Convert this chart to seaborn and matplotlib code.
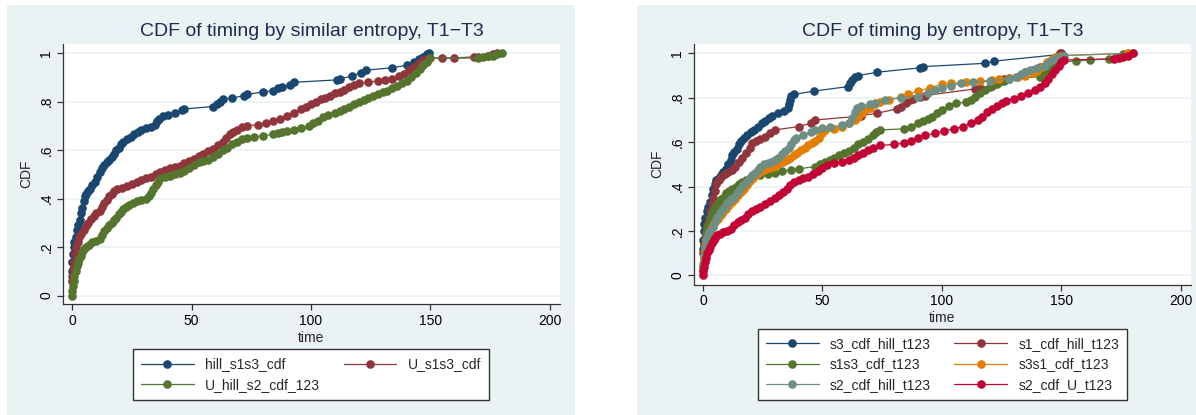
import matplotlib
matplotlib.use("Agg")
import matplotlib.pyplot as plt
import seaborn as sns
from matplotlib.patches import Rectangle

# ---------------- data ----------------
# Left panel: CDF of timing by similar entropy
hill_s1s3_t = [0, 0, 0.3, 0.6, 1, 1.5, 2, 2.6, 3.2, 3.8, 4.3, 4.8, 5.3, 5.8, 6.5, 7.5, 8.5, 9.5, 10.5, 11.5,
               12.5, 13.5, 14.5, 15.5, 16.5, 17.5, 18.5, 19.5, 20.5, 21.5, 23, 24.5, 26, 27.5, 29, 31, 33, 34.5,
               35.5, 36.5, 38, 40, 43, 46, 47, 59, 60.5, 62, 63, 67, 72, 73, 80, 84, 86, 88, 91, 93, 111, 112,
               117, 121, 123, 134, 140, 143, 145, 147, 148.5, 149.5]
hill_s1s3_c = [0.10, 0.14, 0.17, 0.20, 0.22, 0.24, 0.27, 0.29, 0.31, 0.34, 0.36, 0.39, 0.41, 0.42, 0.43, 0.44,
               0.455, 0.47, 0.49, 0.51, 0.525, 0.54, 0.55, 0.56, 0.57, 0.585, 0.60, 0.61, 0.625, 0.635, 0.645,
               0.655, 0.665, 0.675, 0.685, 0.69, 0.695, 0.705, 0.72, 0.73, 0.74, 0.745, 0.755, 0.765, 0.77, 0.78,
               0.79, 0.80, 0.81, 0.815, 0.825, 0.83, 0.84, 0.845, 0.855, 0.86, 0.87, 0.88, 0.89, 0.895, 0.905,
               0.92, 0.93, 0.94, 0.95, 0.965, 0.975, 0.985, 0.995, 1.0]

U_s1s3_t = [0, 0, 0.4, 0.8, 1.3, 1.8, 2.3, 3, 3.8, 4.8, 5.8, 6.8, 7.8, 9, 10.2, 11.5, 12.5, 13.5, 14.5, 15.5,
            16.5, 17.5, 19, 21, 23, 25, 27, 29, 31, 33, 35, 37, 39, 41, 43, 45, 47, 49, 51, 53, 55, 57, 59, 61,
            63, 64.5, 66, 67.5, 69, 71, 73, 78, 81, 84, 87, 90, 93, 96, 98, 100, 102, 104, 106, 108, 110, 112,
            114, 116, 118, 120, 124, 128, 131, 134, 137, 139, 141, 143, 145, 147, 149, 155, 160, 168, 170, 174,
            176, 178]
U_s1s3_c = [0.06, 0.08, 0.11, 0.14, 0.17, 0.20, 0.22, 0.24, 0.255, 0.27, 0.285, 0.30, 0.315, 0.33, 0.34, 0.35,
            0.365, 0.38, 0.395, 0.41, 0.42, 0.43, 0.44, 0.445, 0.45, 0.46, 0.47, 0.475, 0.485, 0.49, 0.50, 0.51,
            0.52, 0.525, 0.53, 0.535, 0.545, 0.555, 0.565, 0.575, 0.585, 0.595, 0.605, 0.62, 0.635, 0.65, 0.665,
            0.675, 0.685, 0.695, 0.70, 0.705, 0.71, 0.72, 0.73, 0.74, 0.755, 0.77, 0.78, 0.79, 0.80, 0.81, 0.815,
            0.825, 0.835, 0.84, 0.85, 0.86, 0.87, 0.875, 0.88, 0.885, 0.89, 0.895, 0.905, 0.915, 0.93, 0.945,
            0.96, 0.97, 0.98, 0.98, 0.98, 0.985, 0.985, 0.99, 0.995, 1.0]

U_hill_s2_t = [0, 0, 0.3, 0.6, 1, 1.5, 2, 2.5, 3, 3.6, 4.2, 5, 6, 7, 8.5, 10, 11.5, 12.5, 13.5, 14.5, 15.5, 16.5,
               17.5, 18.5, 19.5, 20.5, 21.5, 22.5, 24, 25.5, 27, 29, 31, 32, 33, 34, 35, 36, 37, 39, 41, 43, 45,
               47, 49, 51, 53, 55, 57, 59, 61, 63, 65, 67, 69, 71, 73, 76, 80, 84, 86, 88, 90, 93, 96, 99, 101,
               103, 105, 107, 110, 112, 114, 116, 118, 120, 122, 124, 126, 128, 130, 132, 134, 136, 138, 140, 142,
               144, 145.5, 147, 148.5, 150, 170, 172, 174, 176, 178, 180]
U_hill_s2_c = [0.0, 0.02, 0.04, 0.06, 0.08, 0.10, 0.12, 0.135, 0.15, 0.165, 0.18, 0.19, 0.20, 0.21, 0.22, 0.225,
               0.235, 0.25, 0.265, 0.28, 0.29, 0.30, 0.31, 0.32, 0.335, 0.345, 0.355, 0.365, 0.375, 0.38, 0.39,
               0.395, 0.40, 0.41, 0.425, 0.44, 0.455, 0.47, 0.485, 0.49, 0.495, 0.50, 0.505, 0.515, 0.525, 0.54,
               0.55, 0.555, 0.56, 0.57, 0.585, 0.60, 0.61, 0.625, 0.635, 0.645, 0.65, 0.655, 0.66, 0.665, 0.67,
               0.675, 0.68, 0.685, 0.69, 0.70, 0.71, 0.72, 0.735, 0.745, 0.755, 0.76, 0.77, 0.78, 0.79, 0.80,
               0.805, 0.815, 0.825, 0.83, 0.84, 0.845, 0.855, 0.865, 0.875, 0.885, 0.90, 0.92, 0.935, 0.95, 0.965,
               0.98, 0.98, 0.985, 0.99, 0.99, 0.995, 1.0]

# Right panel: CDF of timing by entropy
s3_hill_t = [0, 0, 0.2, 0.5, 1, 1.5, 2.2, 3, 3.6, 4.2, 4.8, 5.5, 6.5, 7.5, 8.5, 9.5, 10.5, 11.5, 12.3, 13, 14,
             15, 16, 17, 18.5, 20, 21.5, 23, 24.5, 26, 27.5, 29, 31.5, 34, 35.5, 36, 36.5, 37, 38, 46.5, 60.5,
             61.5, 62.5, 63.5, 65, 73, 91, 92, 118, 122, 149.5, 150]
s3_hill_c = [0.12, 0.16, 0.20, 0.23, 0.26, 0.29, 0.31, 0.33, 0.36, 0.39, 0.41, 0.43, 0.44, 0.45, 0.465, 0.48,
             0.50, 0.52, 0.54, 0.555, 0.57, 0.59, 0.605, 0.62, 0.63, 0.645, 0.655, 0.67, 0.685, 0.695, 0.71, 0.72,
             0.73, 0.74, 0.755, 0.77, 0.79, 0.81, 0.815, 0.83, 0.85, 0.865, 0.88, 0.895, 0.90, 0.915, 0.935, 0.94,
             0.955, 0.965, 0.995, 1.0]

s1_hill_t = [0, 0.2, 0.6, 1.2, 1.8, 2.4, 3, 3.6, 4.2, 4.8, 5.5, 6.5, 7.5, 9, 10.5, 12, 13.5, 15, 16.5, 18, 19.5,
             20.5, 22, 24, 26, 28, 30, 40, 45, 47, 63.5, 66, 73, 81, 83, 85, 86.5, 88, 91, 93, 114, 116, 121, 124,
             126, 128, 135, 138, 141, 144, 146, 148, 149.5]
s1_hill_c = [0.10, 0.14, 0.17, 0.20, 0.23, 0.26, 0.29, 0.32, 0.35, 0.38, 0.41, 0.43, 0.445, 0.455, 0.465, 0.475,
             0.49, 0.51, 0.53, 0.55, 0.575, 0.595, 0.605, 0.615, 0.625, 0.64, 0.655, 0.67, 0.685, 0.70, 0.715,
             0.72, 0.73, 0.75, 0.76, 0.775, 0.79, 0.795, 0.805, 0.81, 0.84, 0.845, 0.855, 0.87, 0.885, 0.89, 0.915,
             0.925, 0.94, 0.955, 0.97, 0.985, 1.0]

s1s3_t = [0, 0.2, 0.5, 0.8, 1.2, 1.7, 2.3, 3, 3.8, 4.6, 5.5, 6.5, 7.5, 8.6, 9.8, 11, 12.3, 13.6, 15, 16.5, 18,
          19.5, 21, 24, 27, 30, 33, 37, 40, 47, 49, 51, 53, 55, 57, 59, 61, 63, 65, 67, 69, 71, 72.5, 74, 84, 87,
          90, 92, 94, 96, 98, 100, 103, 106, 110, 112, 114, 116, 118, 120, 123, 126, 128, 141, 143, 145, 147, 149,
          156, 162, 170, 173, 176, 178]
s1s3_c = [0.04, 0.08, 0.12, 0.16, 0.19, 0.22, 0.24, 0.26, 0.28, 0.30, 0.315, 0.33, 0.345, 0.355, 0.37, 0.38,
          0.39, 0.40, 0.41, 0.42, 0.43, 0.44, 0.445, 0.45, 0.455, 0.46, 0.47, 0.475, 0.48, 0.49, 0.50, 0.51, 0.52,
          0.53, 0.54, 0.55, 0.56, 0.575, 0.59, 0.60, 0.615, 0.63, 0.645, 0.655, 0.66, 0.67, 0.685, 0.695, 0.705,
          0.715, 0.73, 0.745, 0.765, 0.775, 0.78, 0.79, 0.805, 0.82, 0.835, 0.85, 0.86, 0.875, 0.885, 0.895, 0.915,
          0.935, 0.95, 0.96, 0.965, 0.97, 0.975, 0.985, 0.995, 1.0]

s3s1_t = [0, 0.3, 0.7, 1.2, 1.8, 2.5, 3.3, 4.2, 5.2, 6.2, 7.3, 8.5, 9.8, 11, 12.3, 13.5, 14.8, 16, 17.2, 18.4,
          19.6, 21, 22.5, 24, 25.5, 27.5, 29.5, 31.5, 33.5, 35, 36.5, 38, 39.5, 41, 42.5, 44, 45.5, 47, 48.5, 50,
          51, 55, 58, 61, 63.5, 65, 66.5, 68, 70, 72, 74, 78, 83, 86, 90, 95, 100, 104, 110, 116, 121, 124, 128,
          132, 135, 138, 140, 142, 144, 146, 148, 150, 178]
s3s1_c = [0.03, 0.07, 0.11, 0.14, 0.17, 0.19, 0.21, 0.225, 0.24, 0.255, 0.27, 0.285, 0.30, 0.315, 0.33, 0.345,
          0.36, 0.375, 0.39, 0.405, 0.425, 0.44, 0.455, 0.465, 0.475, 0.485, 0.49, 0.50, 0.51, 0.52, 0.53, 0.54,
          0.55, 0.565, 0.575, 0.585, 0.595, 0.605, 0.62, 0.64, 0.655, 0.66, 0.67, 0.685, 0.70, 0.715, 0.73, 0.745,
          0.755, 0.77, 0.78, 0.79, 0.805, 0.815, 0.83, 0.845, 0.86, 0.865, 0.87, 0.875, 0.88, 0.885, 0.89, 0.895,
          0.90, 0.91, 0.92, 0.94, 0.96, 0.975, 0.985, 0.99, 1.0]

s2_hill_t = [0, 0.3, 0.8, 1.4, 2, 3, 4, 5, 6, 7, 8, 9, 10, 11, 12, 13, 14.3, 15.5, 16.7, 18, 19.2, 20.4, 21.6,
             22.8, 24, 25.5, 27, 28.5, 30, 31.5, 33, 34.5, 36, 37, 38, 39, 42, 45, 47, 50, 53, 58, 61, 62.5, 63.5,
             64.5, 66, 70, 72, 76, 83, 90, 94, 97, 100, 104, 108, 113, 120, 128, 131, 133, 135, 137, 140, 143, 145,
             147, 149, 151, 180]
s2_hill_c = [0.05, 0.09, 0.13, 0.16, 0.18, 0.20, 0.22, 0.245, 0.265, 0.28, 0.295, 0.31, 0.325, 0.335, 0.345,
             0.355, 0.37, 0.39, 0.405, 0.42, 0.435, 0.45, 0.46, 0.475, 0.49, 0.50, 0.505, 0.51, 0.52, 0.53, 0.545,
             0.56, 0.575, 0.59, 0.61, 0.62, 0.63, 0.645, 0.655, 0.665, 0.67, 0.675, 0.685, 0.71, 0.735, 0.755,
             0.765, 0.77, 0.775, 0.79, 0.80, 0.805, 0.82, 0.835, 0.845, 0.855, 0.865, 0.87, 0.875, 0.885, 0.895,
             0.905, 0.915, 0.925, 0.935, 0.945, 0.96, 0.975, 0.985, 0.99, 1.0]

s2_U_t = [0, 0, 0.3, 0.7, 1.2, 1.7, 2.3, 3, 3.7, 4.4, 5.1, 5.8, 7, 8.5, 10, 11.5, 13, 14.5, 16, 17.5, 19, 20.5,
          22, 24, 26, 28, 30, 32, 33.5, 35, 36.5, 38, 40, 42, 44, 46, 48, 50, 52, 55, 58, 61, 63, 65, 67, 69, 71,
          74, 80, 84, 87, 90, 93, 97, 101, 105, 109, 112, 115, 117, 119, 121, 123, 125, 127, 130, 133, 136, 139,
          141, 143, 144.5, 146, 147.5, 149, 150, 151, 172, 174, 176, 178, 180]
s2_U_c = [0.0, 0.02, 0.04, 0.06, 0.08, 0.10, 0.115, 0.13, 0.145, 0.16, 0.17, 0.18, 0.185, 0.195, 0.20, 0.21,
          0.225, 0.24, 0.25, 0.26, 0.275, 0.29, 0.30, 0.31, 0.32, 0.335, 0.35, 0.36, 0.375, 0.39, 0.405, 0.42,
          0.43, 0.44, 0.445, 0.455, 0.47, 0.485, 0.495, 0.505, 0.51, 0.52, 0.53, 0.54, 0.55, 0.565, 0.575, 0.585,
          0.59, 0.595, 0.605, 0.62, 0.63, 0.64, 0.65, 0.66, 0.67, 0.685, 0.70, 0.715, 0.735, 0.75, 0.765, 0.775,
          0.785, 0.795, 0.81, 0.82, 0.835, 0.85, 0.865, 0.885, 0.905, 0.925, 0.945, 0.96, 0.97, 0.975, 0.98,
          0.985, 0.99, 1.0]

x_ticks = [0, 50, 100, 150, 200]
y_ticks = [0, 0.2, 0.4, 0.6, 0.8, 1.0]
y_ticklabels = ["0", ".2", ".4", ".6", ".8", "1"]

left_title = "CDF of timing by similar entropy, T1\u2212T3"
right_title = "CDF of timing by entropy, T1\u2212T3"

# ---------------- style ----------------
sns.set_theme(style="white")
plt.rcParams["font.family"] = ["Liberation Sans", "DejaVu Sans"]

NAVY, MAROON, FOREST, ORANGE, TEAL, CRANBERRY = "#1a476f", "#90353b", "#55752f", "#e37e00", "#6e8e84", "#c10534"
BG = "#eaf2f3"
AXC = "#333333"

W, H = 1196, 415
fig = plt.figure(figsize=(W / 100, H / 100), dpi=100)
fig.patch.set_facecolor("white")

# panel backgrounds
for x0, x1 in [(7, 575), (637, 1196)]:
    fig.patches.append(Rectangle((x0 / W, 0), (x1 - x0) / W, (H - 5) / H, transform=fig.transFigure,
                                 facecolor=BG, edgecolor="none", zorder=-10))


def make_axes(x0, x1, ytop, ybot):
    ax = fig.add_axes([x0 / W, 1 - ybot / H, (x1 - x0) / W, (ybot - ytop) / H])
    ax.set_zorder(5)
    return ax


axL = make_axes(63, 560, 44, 304)
axR = make_axes(694, 1190.7, 44, 284.5)


def style_axes(ax, ylim):
    ax.set_facecolor("white")
    ax.set_xlim(-3.8, 204.2)
    ax.set_ylim(*ylim)
    ax.set_xticks(x_ticks)
    ax.set_xticklabels([str(v) for v in x_ticks])
    ax.set_yticks(y_ticks)
    ax.set_yticklabels(y_ticklabels, rotation=90, va="center")
    for s in ["top", "right"]:
        ax.spines[s].set_visible(False)
    for s in ["left", "bottom"]:
        ax.spines[s].set_color(AXC)
        ax.spines[s].set_linewidth(0.9)
    ax.tick_params(axis="both", which="major", direction="out", length=4, width=0.9, color=AXC,
                   labelsize=10, labelcolor="black", left=True, bottom=True)
    ax.tick_params(axis="x", pad=3)
    ax.tick_params(axis="y", pad=3)
    ax.grid(axis="y", color=BG, linewidth=1.2)
    ax.grid(axis="x", visible=False)
    ax.set_axisbelow(True)
    ax.set_xlabel("time", fontsize=10, labelpad=2)
    ax.set_ylabel("CDF", fontsize=10, labelpad=4)


def draw(ax, series):
    for name, t, c, col in series:
        sns.lineplot(x=t, y=c, ax=ax, color=col, marker="o", markersize=6.2, markeredgewidth=0,
                     linewidth=0.9, estimator=None, sort=False, label=name)


left_series = [
    ("hill_s1s3_cdf", hill_s1s3_t, hill_s1s3_c, NAVY),
    ("U_s1s3_cdf", U_s1s3_t, U_s1s3_c, MAROON),
    ("U_hill_s2_cdf_123", U_hill_s2_t, U_hill_s2_c, FOREST),
]
right_series = [
    ("s3_cdf_hill_t123", s3_hill_t, s3_hill_c, NAVY),
    ("s1_cdf_hill_t123", s1_hill_t, s1_hill_c, MAROON),
    ("s1s3_cdf_t123", s1s3_t, s1s3_c, FOREST),
    ("s3s1_cdf_t123", s3s1_t, s3s1_c, ORANGE),
    ("s2_cdf_hill_t123", s2_hill_t, s2_hill_c, TEAL),
    ("s2_cdf_U_t123", s2_U_t, s2_U_c, CRANBERRY),
]

draw(axL, left_series)
draw(axR, right_series)
style_axes(axL, (-0.035, 1.038))
style_axes(axR, (-0.041, 1.042))


def add_legend(ax, order, cx, cy):
    h, l = ax.get_legend_handles_labels()
    leg = ax.legend([h[i] for i in order], [l[i] for i in order], loc="center",
                    bbox_to_anchor=(cx / W, 1 - cy / H), bbox_transform=fig.transFigure, ncol=2,
                    frameon=True, fancybox=False, framealpha=1, edgecolor=AXC, facecolor="white",
                    fontsize=10, handlelength=3.8, handletextpad=0.8, columnspacing=1.7,
                    borderpad=0.6, labelspacing=0.45, borderaxespad=0)
    leg.get_frame().set_linewidth(1.0)
    return leg


add_legend(axL, [0, 2, 1], 311, 374.5)
add_legend(axR, [0, 2, 4, 1, 3, 5], 942.5, 364.5)

fig.text(311.5 / W, 1 - 36 / H, left_title, ha="center", va="baseline", fontsize=14, color="#1c2d4f")
fig.text(942.5 / W, 1 - 36 / H, right_title, ha="center", va="baseline", fontsize=14, color="#1c2d4f")

fig.savefig("out.png", dpi=100, facecolor="white")
